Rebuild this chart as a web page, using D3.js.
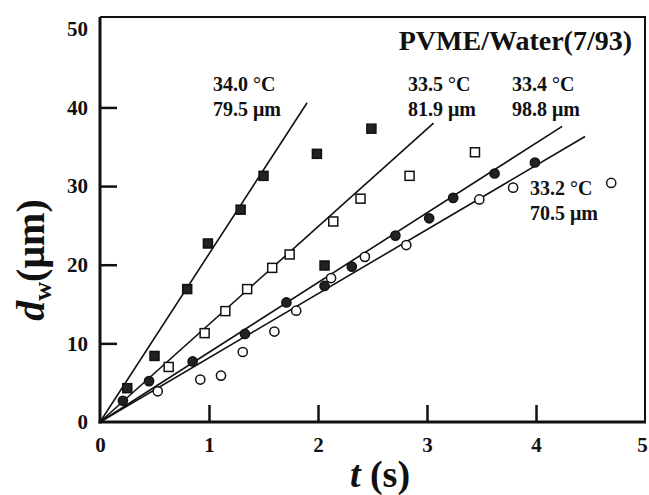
<!DOCTYPE html>
<html>
<head>
<meta charset="utf-8">
<script src="https://cdn.jsdelivr.net/npm/d3@7"></script>
<style>
  body { margin: 0; background: #fff; }
  svg { display: block; }
  text { font-family: "Liberation Serif", "Times New Roman", serif; font-weight: bold; fill: #111; }
</style>
</head>
<body>
<script>
// growth of domain size d_w with time t, PVME/Water (7/93)
var xTicks = [0, 1, 2, 3, 4, 5];
var yTicks = [0, 10, 20, 30, 40, 50];

// 34.0 C - filled squares
var sqFillT = [0.25, 0.50, 0.80, 0.99, 1.29, 1.50, 1.99, 2.06, 2.49];
var sqFillV = [4.3, 8.4, 16.9, 22.7, 27.0, 31.3, 34.1, 19.9, 37.3];
// 33.5 C - open squares
var sqOpenT = [0.63, 0.96, 1.15, 1.35, 1.58, 1.74, 2.14, 2.39, 2.84, 3.44];
var sqOpenV = [7.0, 11.3, 14.1, 16.9, 19.6, 21.3, 25.5, 28.4, 31.3, 34.3];
// 33.4 C - filled circles
var ciFillT = [0.21, 0.45, 0.85, 1.33, 1.71, 2.06, 2.31, 2.71, 3.02, 3.24, 3.62, 3.99];
var ciFillV = [2.7, 5.2, 7.7, 11.2, 15.2, 17.3, 19.75, 23.7, 25.9, 28.5, 31.6, 33.0];
// 33.2 C - open circles
var ciOpenT = [0.53, 0.92, 1.11, 1.31, 1.60, 1.80, 2.12, 2.43, 2.81, 3.48, 3.79, 4.69];
var ciOpenV = [3.9, 5.4, 5.9, 8.9, 11.5, 14.15, 18.3, 21.0, 22.5, 28.3, 29.8, 30.4];

// fitted lines through the origin: end point of each
var fitEndT = [1.90, 3.06, 4.24, 4.45];
var fitEndV = [40.6, 38.0, 37.6, 36.3];

var labelTemp = ["34.0 \u00b0C", "33.5 \u00b0C", "33.4 \u00b0C", "33.2 \u00b0C"];
var labelSize = ["79.5 \u03bcm", "81.9 \u03bcm", "98.8 \u03bcm", "70.5 \u03bcm"];

var width = 649, height = 495;
var svg = d3.select("body").append("svg")
  .attr("width", width)
  .attr("height", height);

var x = d3.scaleLinear().domain([0, 5]).range([100, 645]);
var y = d3.scaleLinear().domain([0, 51.5]).range([422, 17]);

// axes with inward ticks
var xAxis = svg.append("g")
  .attr("transform", "translate(0,422)")
  .call(d3.axisBottom(x).tickValues(xTicks).tickFormat(d3.format("d")).tickSize(-17).tickPadding(15));
var yAxis = svg.append("g")
  .attr("transform", "translate(100,0)")
  .call(d3.axisLeft(y).tickValues(yTicks).tickFormat(d3.format("d")).tickSize(-17).tickPadding(12));
[xAxis, yAxis].forEach(function(g){
  g.select(".domain").remove();
  g.selectAll(".tick line").attr("stroke", "#111").attr("stroke-width", 2.5)
    .filter(function(d){ return d == 0 || d == 5 || d == 50; }).remove();
  g.selectAll(".tick text").style("font-size", "21px").style("font-family", "Liberation Serif").style("font-weight", "bold").attr("fill", "#111");
});
// last x label sits at the window edge, keep it inside
xAxis.selectAll(".tick text").filter(function(d){ return d == 5; }).attr("dx", -3);

// frame
svg.append("line").attr("x1", 100).attr("x2", 100).attr("y1", 17).attr("y2", 423.5).attr("stroke", "#111").attr("stroke-width", 3);
svg.append("line").attr("x1", 98.5).attr("x2", 646).attr("y1", 422).attr("y2", 422).attr("stroke", "#111").attr("stroke-width", 3);
svg.append("line").attr("x1", 100).attr("x2", 646).attr("y1", 17).attr("y2", 17).attr("stroke", "#111").attr("stroke-width", 2);
svg.append("line").attr("x1", 645).attr("x2", 645).attr("y1", 16).attr("y2", 423).attr("stroke", "#111").attr("stroke-width", 2);

// fit lines
fitEndT.forEach(function(t, i){
  svg.append("line")
    .attr("x1", x(0)).attr("y1", y(0))
    .attr("x2", x(t)).attr("y2", y(fitEndV[i]))
    .attr("stroke", "#111")
    .attr("stroke-width", 1.6);
});

function squares(ts, vs, fill){
  svg.append("g").selectAll("rect")
    .data(ts)
    .enter()
    .append("rect")
    .attr("x", function(d){ return x(d) - 4.5; })
    .attr("y", function(d, i){ return y(vs[i]) - 4.5; })
    .attr("width", 9)
    .attr("height", 9)
    .attr("fill", fill)
    .attr("stroke", "#111")
    .attr("stroke-width", 1.5);
}
function circles(ts, vs, fill){
  svg.append("g").selectAll("circle")
    .data(ts)
    .enter()
    .append("circle")
    .attr("cx", function(d){ return x(d); })
    .attr("cy", function(d, i){ return y(vs[i]); })
    .attr("r", 4.6)
    .attr("fill", fill)
    .attr("stroke", "#111")
    .attr("stroke-width", 1.5);
}
squares(sqOpenT, sqOpenV, "#fff");
circles(ciOpenT, ciOpenV, "#fff");
circles(ciFillT, ciFillV, "#222");
squares(sqFillT, sqFillV, "#222");

// annotations
var labX = [213, 408, 512, 530];
var labY = [91, 91, 91, 195];
labelTemp.forEach(function(s, i){
  svg.append("text").attr("x", labX[i]).attr("y", labY[i]).style("font-size", "20px").text(s);
  svg.append("text").attr("x", labX[i]).attr("y", labY[i] + 25).style("font-size", "20px").text(labelSize[i]);
});

svg.append("text")
  .attr("x", 632).attr("y", 50)
  .attr("text-anchor", "end")
  .style("font-size", "28px")
  .text("PVME/Water(7/93)");

// axis titles
var xt = svg.append("text")
  .attr("x", 380).attr("y", 487)
  .attr("text-anchor", "middle")
  .style("font-size", "38px");
xt.append("tspan").style("font-style", "italic").text("t");
xt.append("tspan").text(" (s)");

var yt = svg.append("text")
  .attr("transform", "translate(44,260) rotate(-90)")
  .attr("text-anchor", "middle")
  .style("font-size", "40px");
yt.append("tspan").style("font-style", "italic").text("d");
yt.append("tspan").style("font-size", "26px").attr("dy", 7).text("w");
yt.append("tspan").attr("dy", -7).text("(\u03bcm)");
</script>
</body>
</html>
